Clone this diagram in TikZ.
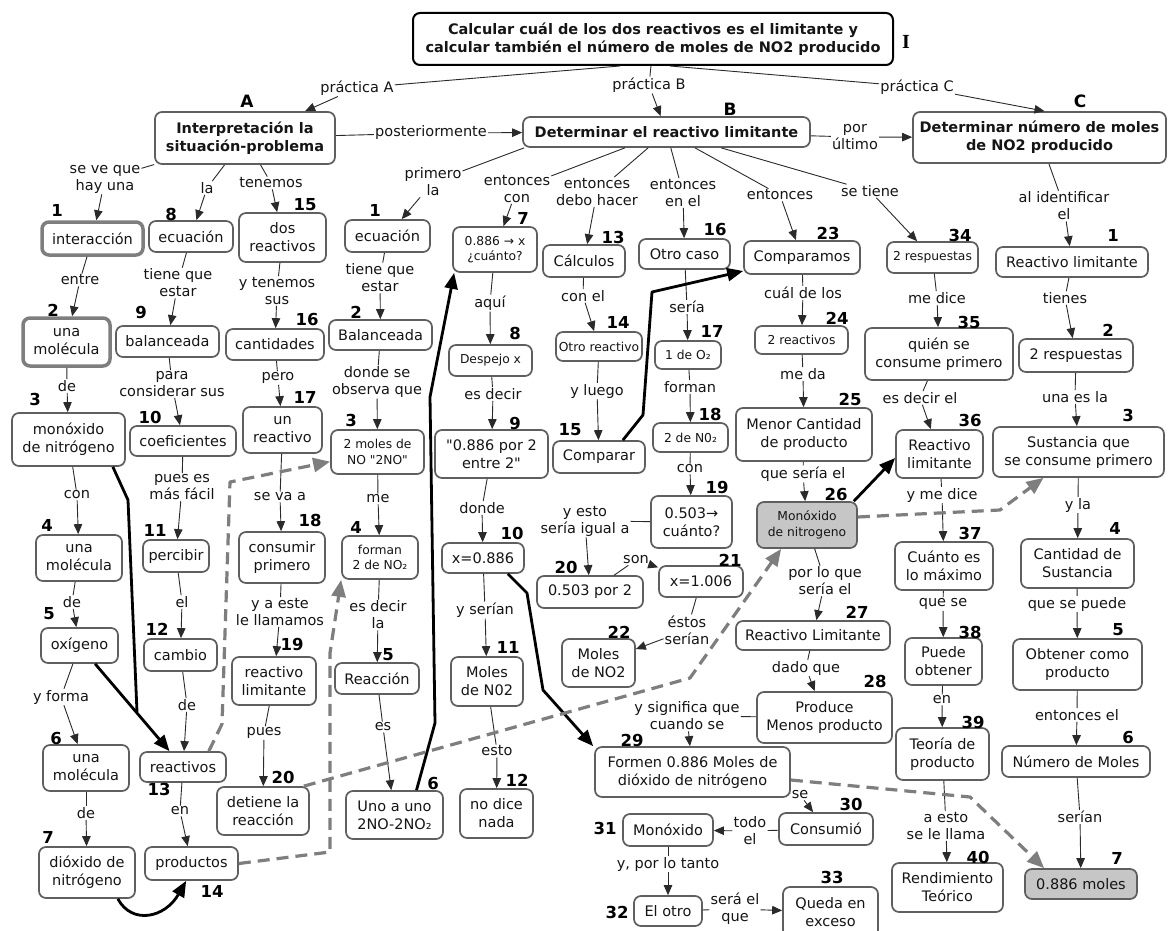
\documentclass[tikz,border=0pt]{standalone}
\usepackage{fontspec}
\setmainfont{DejaVu Sans}[Ligatures=TeXOff]
\newfontfamily\serifbf{Liberation Serif}
\usetikzlibrary{arrows.meta}
\definecolor{bd}{HTML}{5F5F5F}
\definecolor{tx}{HTML}{151515}
\definecolor{lc}{HTML}{2A2A2A}
\definecolor{dg}{HTML}{7E7E7E}
\definecolor{gf}{HTML}{C6C6C6}
\tikzset{
  cb/.style={draw=bd, line width=1.7pt, rounded corners=7pt, inner sep=0pt, align=center, text=tx, font=\fontsize{14.5}{18}\selectfont},
  sm/.style={font=\fontsize{12.3}{15.5}\selectfont},
  tb/.style={draw=dg, line width=3.5pt},
  hd/.style={font=\fontsize{14.5}{18}\bfseries\selectfont},
  gfill/.style={fill=gf},
  lab/.style={inner sep=1pt, align=center, text=tx, font=\fontsize{14.5}{17}\selectfont},
  num/.style={inner sep=0pt, text=black, font=\fontsize{16.5}{18}\bfseries\selectfont},
  ln/.style={draw=lc, line width=0.9pt},
  arr/.style={ln, -{Triangle[length=10pt,width=8.5pt]}},
  thk/.style={draw=black, line width=2.8pt, line join=round},
  thka/.style={thk, -{Triangle[length=16pt,width=13pt]}},
  dsh/.style={draw=dg, line width=3.2pt, line join=round, dash pattern=on 12pt off 7pt, -{Triangle[length=17pt,width=14pt]}}
}
\newcommand\cbx[7][]{\node[cb,#1,minimum width=#5pt-#3pt,minimum height=#6pt-#4pt] (#2) at ({(#3+#5)/2},{(#4+#6)/2}) {#7};}
\newcommand\lk[3]{\draw[ln] (#1) -- (#2); \draw[arr] (#2) -- (#3);}
\newcommand\dq{{\char34}}
\begin{document}
\begin{tikzpicture}[x=1pt,y=-1pt]
\fill[white] (0,0) rectangle (1168,931);
\useasboundingbox (0,0) rectangle (1168,931);

% ---------- main boxes
\cbx[hd,draw=black,line width=2pt]{I}{413}{13}{893}{65}{Calcular cuál de los dos reactivos es el limitante y\\calcular también el número de moles de NO2 producido}
\node[font=\serifbf\bfseries\fontsize{20}{22}\selectfont] (tI) at (906,42) {I};
\cbx[hd]{A}{155}{112}{335}{164}{Interpretación la\\situación-problema}
\cbx[hd]{B}{523}{117}{810}{147}{Determinar el reactivo limitante}
\cbx[hd]{C}{913}{112}{1166}{163}{Determinar número de moles\\de NO2 producido}
\node[num,font=\fontsize{17}{18}\bfseries\selectfont] (tA) at (247,101) {A};
\node[num,font=\fontsize{17}{18}\bfseries\selectfont] (tB) at (730,109) {B};
\node[num,font=\fontsize{17}{18}\bfseries\selectfont] (tC) at (1080,101) {C};

% ---------- A branch
\cbx[tb]{a1}{42}{222}{143}{255}{interacción}
\cbx[tb]{a2}{23}{318}{110}{366}{una\\molécula}
\cbx{a3}{12}{413}{125}{466}{monóxido\\de nitrógeno}
\cbx{a4}{36}{535}{122}{581}{una\\molécula}
\cbx{a5}{41}{628}{118}{663}{oxígeno}
\cbx{a6}{43}{745}{129}{791}{una\\molécula}
\cbx{a7}{39}{847}{135}{898}{dióxido de\\nitrógeno}
\cbx{a8}{149}{221}{233}{252}{ecuación}
\cbx{a9}{116}{326}{219}{357}{balanceada}
\cbx{a10}{130}{426}{236}{456}{coeficientes}
\cbx{a11}{143}{540}{209}{572}{percibir}
\cbx{a12}{144}{639}{217}{671}{cambio}
\cbx{a13}{140}{752}{226}{782}{reactivos}
\cbx{a14}{145}{847}{238}{880}{productos}
\cbx{a15}{239}{213}{326}{262}{dos\\reactivos}
\cbx{a16}{226}{329}{324}{360}{cantidades}
\cbx{a17}{243}{407}{322}{453}{un\\reactivo}
\cbx{a18}{239}{532}{325}{583}{consumir\\primero}
\cbx{a19}{232}{657}{316}{705}{reactivo\\limitante}
\cbx{a20}{217}{787}{309}{835}{detiene la\\reacción}

% ---------- B branch
\cbx{b1}{345}{220}{430}{252}{ecuación}
\cbx{b2}{329}{320}{432}{350}{Balanceada}
\cbx[sm]{b3}{331}{430}{424}{474}{2 moles de\\NO \dq 2NO\dq}
\cbx[sm]{b4}{342}{536}{418}{579}{forman\\2 de NO₂}
\cbx{b5}{335}{663}{419}{694}{Reacción}
\cbx{b6}{346}{791}{443}{839}{Uno a uno\\2NO-2NO₂}
\cbx[sm]{b7}{453}{227}{537}{272}{0.886 → x\\¿cuánto?}
\cbx[sm]{b8}{449}{345}{532}{376}{Despejo x}
\cbx{b9}{435}{430}{548}{478}{\dq 0.886 por 2\\entre 2\dq}
\cbx{b10}{442}{543}{524}{573}{x=0.886}
\cbx{b11}{451}{657}{523}{706}{Moles\\de N02}
\cbx{b12}{460}{789}{533}{838}{no dice\\nada}
\cbx{b13}{543}{245}{625}{277}{Cálculos}
\cbx[sm]{b14}{556}{332}{642}{361}{Otro reactivo}
\cbx{b15}{553}{441}{645}{473}{Comparar}
\cbx{b16}{639}{239}{730}{269}{Otro caso}
\cbx[sm]{b17}{655}{341}{721}{369}{1 de O₂}
\cbx[sm]{b18}{653}{423}{728}{452}{2 de N0₂}
\cbx{b19}{651}{496}{732}{548}{0.503→\\cuánto?}
\cbx{b20}{537}{576}{643}{608}{0.503 por 2}
\cbx{b21}{659}{566}{743}{597}{x=1.006}
\cbx{b22}{562}{639}{635}{687}{Moles\\de NO2}
\cbx{b23}{744}{241}{860}{274}{Comparamos}
\cbx[sm]{b24}{755}{326}{848}{354}{2 reactivos}
\cbx{b25}{736}{408}{872}{461}{Menor Cantidad\\de producto}
\cbx[sm,gfill]{b26}{757}{502}{857}{548}{Monóxido\\de nitrogeno}
\cbx{b27}{736}{621}{890}{650}{Reactivo Limitante}
\cbx{b28}{757}{692}{892}{743}{Produce\\Menos producto}
\cbx{b29}{595}{747}{790}{797}{Formen 0.886 Moles de\\dióxido de nitrógeno}
\cbx{b30}{779}{813}{873}{845}{Consumió}
\cbx{b31}{623}{814}{713}{846}{Monóxido}
\cbx{b32}{634}{896}{702}{926}{El otro}
\cbx{b33}{783}{887}{878}{937}{Queda en\\exceso}
\cbx[sm]{b34}{887}{242}{978}{273}{2 respuestas}
\cbx{b35}{865}{328}{1013}{380}{quién se\\consume primero}
\cbx{b36}{896}{430}{983}{478}{Reactivo\\limitante}
\cbx{b37}{895}{542}{993}{590}{Cuánto es\\lo máximo}
\cbx{b38}{905}{638}{982}{685}{Puede\\obtener}
\cbx{b39}{896}{728}{989}{780}{Teoría de\\producto}
\cbx{b40}{892}{863}{1003}{912}{Rendimiento\\Teórico}

% ---------- C branch
\cbx{c1}{996}{247}{1148}{277}{Reactivo limitante}
\cbx{c2}{1019}{339}{1133}{372}{2 respuestas}
\cbx{c3}{993}{427}{1164}{477}{Sustancia que\\se consume primero}
\cbx{c4}{1021}{539}{1134}{588}{Cantidad de\\Sustancia}
\cbx{c5}{1013}{639}{1142}{690}{Obtener como\\producto}
\cbx{c6}{1002}{746}{1150}{777}{Número de Moles}
\cbx[gfill]{c7}{1025}{869}{1137}{899}{0.886 moles}

% ---------- numbers
\node[num] (na1) at (57,210) {1};
\node[num] (na2) at (53,310) {2};
\node[num] (na3) at (35,399) {3};
\node[num] (na4) at (47,525) {4};
\node[num] (na5) at (49,614) {5};
\node[num] (na6) at (56,738) {6};
\node[num] (na7) at (48,837) {7};
\node[num] (na8) at (171,214) {8};
\node[num] (na9) at (141,313) {9};
\node[num] (na10) at (150,417) {10};
\node[num] (na11) at (155,530) {11};
\node[num] (na12) at (157,629) {12};
\node[num] (na13) at (159,789) {13};
\node[num] (na14) at (212,891) {14};
\node[num] (na15) at (305,205) {15};
\node[num] (na16) at (307,320) {16};
\node[num] (na17) at (305,397) {17};
\node[num] (na18) at (310,520) {18};
\node[num] (na19) at (292,644) {19};
\node[num] (na20) at (283,777) {20};
\node[num] (nb1) at (375,210) {1};
\node[num] (nb2) at (356,312) {2};
\node[num] (nb3) at (351,420) {3};
\node[num] (nb4) at (356,527) {4};
\node[num] (nb5) at (388,655) {5};
\node[num] (nb6) at (433,783) {6};
\node[num] (nb7) at (523,218) {7};
\node[num] (nb8) at (515,333) {8};
\node[num] (nb9) at (515,423) {9};
\node[num] (nb10) at (512,533) {10};
\node[num] (nb11) at (508,647) {11};
\node[num] (nb12) at (517,780) {12};
\node[num] (nb13) at (613,237) {13};
\node[num] (nb14) at (618,322) {14};
\node[num] (nb15) at (570,430) {15};
\node[num] (nb16) at (715,230) {16};
\node[num] (nb17) at (712,331) {17};
\node[num] (nb18) at (710,414) {18};
\node[num] (nb19) at (717,487) {19};
\node[num] (nb20) at (566,567) {20};
\node[num] (nb21) at (730,560) {21};
\node[num] (nb22) at (619,632) {22};
\node[num] (nb23) at (828,233) {23};
\node[num] (nb24) at (837,318) {24};
\node[num] (nb25) at (850,399) {25};
\node[num] (nb26) at (836,494) {26};
\node[num] (nb27) at (857,612) {27};
\node[num] (nb28) at (875,681) {28};
\node[num] (nb29) at (632,740) {29};
\node[num] (nb30) at (851,804) {30};
\node[num] (nb31) at (605,828) {31};
\node[num] (nb32) at (617,912) {32};
\node[num] (nb33) at (832,877) {33};
\node[num] (nb34) at (960,235) {34};
\node[num] (nb35) at (969,322) {35};
\node[num] (nb36) at (970,420) {36};
\node[num] (nb37) at (970,533) {37};
\node[num] (nb38) at (970,632) {38};
\node[num] (nb39) at (973,722) {39};
\node[num] (nb40) at (978,857) {40};
\node[num] (nc1) at (1113,235) {1};
\node[num] (nc2) at (1108,330) {2};
\node[num] (nc3) at (1128,415) {3};
\node[num] (nc4) at (1115,528) {4};
\node[num] (nc5) at (1118,630) {5};
\node[num] (nc6) at (1128,737) {6};
\node[num] (nc7) at (1117,858) {7};

% ---------- linking phrases
\node[lab] (pA) at (357,88) {práctica A};
\node[lab] (pB) at (649,85) {práctica B};
\node[lab] (pC) at (917,87) {práctica C};
\node[lab] (post) at (431,133) {posteriormente};
\node[lab] (ult) at (855,137) {por\\último};
\node[lab] (lA1) at (105,179) {se ve que\\hay una};
\node[lab] (lA2) at (207,188) {la};
\node[lab] (lA3) at (271,183) {tenemos};
\node[lab] (la1) at (80,280) {entre};
\node[lab] (la2) at (67,386) {de};
\node[lab] (la3) at (77,495) {con};
\node[lab] (la4) at (72,602) {de};
\node[lab] (la5) at (61,697) {y forma};
\node[lab] (la6) at (86,813) {de};
\node[lab] (la8) at (178,283) {tiene que\\estar};
\node[lab] (la9) at (172,384) {para\\considerar sus};
\node[lab] (la10) at (182,487) {pues es\\más fácil};
\node[lab] (la11) at (182,602) {el};
\node[lab] (la12) at (187,705) {de};
\node[lab] (la13) at (180,811) {en};
\node[lab] (la15) at (277,291) {y tenemos\\sus};
\node[lab] (la16) at (278,378) {pero};
\node[lab] (la17) at (280,497) {se va a};
\node[lab] (la18) at (280,612) {y a este\\le llamamos};
\node[lab] (la19) at (264,733) {pues};
\node[lab] (lB1) at (433,182) {primero\\la};
\node[lab] (lB2) at (517,189) {entonces\\con};
\node[lab] (lB3) at (597,192) {entonces\\debo hacer};
\node[lab] (lB4) at (683,193) {entonces\\en el};
\node[lab] (lB5) at (780,195) {entonces};
\node[lab] (lB6) at (870,191) {se tiene};
\node[lab] (lb1) at (380,278) {tiene que\\estar};
\node[lab] (lb2) at (377,382) {donde se\\observa que};
\node[lab] (lb3) at (378,499) {me};
\node[lab] (lb4) at (378,615) {es decir\\la};
\node[lab] (lb5) at (383,727) {es};
\node[lab] (lb7) at (490,303) {aquí};
\node[lab] (lb8) at (493,394) {es decir};
\node[lab] (lb9) at (482,508) {donde};
\node[lab] (lb10) at (485,610) {y serían};
\node[lab] (lb11) at (497,751) {esto};
\node[lab] (lb13) at (583,296) {con el};
\node[lab] (lb14) at (597,391) {y luego};
\node[lab] (lb16) at (687,307) {sería};
\node[lab] (lb17) at (690,387) {forman};
\node[lab] (lb18) at (690,469) {con};
\node[lab] (lb19) at (585,521) {y esto\\sería igual a};
\node[lab] (lb20) at (636,560) {son};
\node[lab] (lb21) at (687,630) {éstos\\serían};
\node[lab] (lb23) at (803,293) {cuál de los};
\node[lab] (lb24) at (803,374) {me da};
\node[lab] (lb25) at (803,474) {que sería el};
\node[lab] (lb26) at (825,581) {por lo que\\sería el};
\node[lab] (lb27) at (806,668) {dado que};
\node[lab] (lb28) at (687,716) {y significa que\\cuando se};
\node[lab] (lb29) at (800,795) {se};
\node[lab] (lb30) at (750,831) {todo\\el};
\node[lab] (lb31) at (668,864) {y, por lo tanto};
\node[lab] (lb32) at (735,909) {será el\\que};
\node[lab] (lb34) at (937,298) {me dice};
\node[lab] (lb35) at (920,398) {es decir el};
\node[lab] (lb36) at (942,495) {y me dice};
\node[lab] (lb37) at (943,604) {que se};
\node[lab] (lb38) at (942,700) {en};
\node[lab] (lb39) at (946,826) {a esto\\se le llama};
\node[lab] (lC) at (1064,206) {al identificar\\el};
\node[lab] (lc1) at (1065,298) {tienes};
\node[lab] (lc2) at (1075,397) {una es la};
\node[lab] (lc3) at (1078,505) {y la};
\node[lab] (lc4) at (1077,604) {que se puede};
\node[lab] (lc5) at (1077,715) {entonces el};
\node[lab] (lc6) at (1080,817) {serían};

% ---------- top connectors
\draw[ln] ([xshift=-33pt]I.south) -- (pA); \draw[arr] (pA) -- (A);
\draw[ln] ([xshift=-2pt]I.south) -- (pB); \draw[arr] (pB) -- (B);
\draw[ln] ([xshift=17pt]I.south) -- (pC); \draw[arr] (pC) -- ([xshift=5pt]C.north);
\lk{A}{post}{B}
\lk{B}{ult}{C}

% A chains
\lk{A}{lA1}{a1} \lk{A}{lA2}{a8} \lk{A}{lA3}{a15}
\lk{a1}{la1}{a2} \lk{a2}{la2}{a3} \lk{a3}{la3}{a4} \lk{a4}{la4}{a5} \lk{a5}{la5}{a6} \lk{a6}{la6}{a7}
\lk{a8}{la8}{a9} \lk{a9}{la9}{a10} \lk{a10}{la10}{a11} \lk{a11}{la11}{a12} \lk{a12}{la12}{a13} \lk{a13}{la13}{a14}
\lk{a15}{la15}{a16} \lk{a16}{la16}{a17} \lk{a17}{la17}{a18} \lk{a18}{la18}{a19} \lk{a19}{la19}{a20}

% B chains
\draw[ln] ([xshift=2pt]B.south west) -- (lB1); \draw[arr] (lB1) -- (b1);
\lk{b1}{lb1}{b2} \lk{b2}{lb2}{b3} \lk{b3}{lb3}{b4} \lk{b4}{lb4}{b5} \lk{b5}{lb5}{b6}
\lk{B}{lB2}{b7}
\lk{b7}{lb7}{b8} \lk{b8}{lb8}{b9} \lk{b9}{lb9}{b10} \lk{b10}{lb10}{b11} \lk{b11}{lb11}{b12}
\lk{B}{lB3}{b13}
\lk{b13}{lb13}{b14} \lk{b14}{lb14}{b15}
\lk{B}{lB4}{b16}
\lk{b16}{lb16}{b17} \lk{b17}{lb17}{b18} \lk{b18}{lb18}{b19} \lk{b19}{lb19}{b20} \lk{b20}{lb20}{b21} \lk{b21}{lb21}{b22}
\lk{B}{lB5}{b23}
\lk{b23}{lb23}{b24} \lk{b24}{lb24}{b25} \lk{b25}{lb25}{b26} \lk{b26}{lb26}{b27} \lk{b27}{lb27}{b28} \lk{b28}{lb28}{b29} \lk{b29}{lb29}{b30} \lk{b30}{lb30}{b31} \lk{b31}{lb31}{b32} \lk{b32}{lb32}{b33}
\lk{B}{lB6}{b34}
\lk{b34}{lb34}{b35} \lk{b35}{lb35}{b36} \lk{b36}{lb36}{b37} \lk{b37}{lb37}{b38} \lk{b38}{lb38}{b39} \lk{b39}{lb39}{b40}

% C chain
\lk{C}{lC}{c1} \lk{c1}{lc1}{c2} \lk{c2}{lc2}{c3} \lk{c3}{lc3}{c4} \lk{c4}{lc4}{c5} \lk{c5}{lc5}{c6} \lk{c6}{lc6}{c7}

% ---------- thick connectors
\coordinate (m1) at (137,712);
\draw[thka] (a5) -- (a13);
\draw[thk] ([xshift=-13pt]a3.south east) -- (128,500) -- (m1);
\draw[thka] ([xshift=-18pt]a7.south east) .. controls (132,925) and (165,918) .. ([xshift=42pt]a14.south west);
\draw[thka] ([xshift=22pt]b6.north) -- (435,723) -- (430,397) -- ([xshift=2pt]b7.south west);
\draw[thka] ([xshift=-17pt]b10.south east) -- (527,593) -- (543,690) -- ([xshift=-1pt]b29.north west);
\draw[thka] ([xshift=-23pt]b15.north east) -- (643,415) -- (652,292) -- (b23);
\draw[thka] ([xshift=-4pt]b26.north east) -- ([yshift=-4pt]b36.west);

% ---------- dashed connectors
\draw[dsh] ([xshift=-18pt]a13.north east) -- (222,724) -- (230,482) -- (b3);
\draw[dsh] (a14.east) -- (330,852) -- (330,653) -- (b4.south west);
\draw[dsh] ([xshift=-6pt]a20.north east) -- (690,678) -- ([xshift=25pt]b26.south west);
\draw[dsh] ([yshift=8pt]b26.east) -- (1000,510) -- (c3);
\draw[dsh] ([yshift=-8pt]b29.east) -- (970,797) -- ([xshift=20pt]c7.north west);
\end{tikzpicture}
\end{document}
